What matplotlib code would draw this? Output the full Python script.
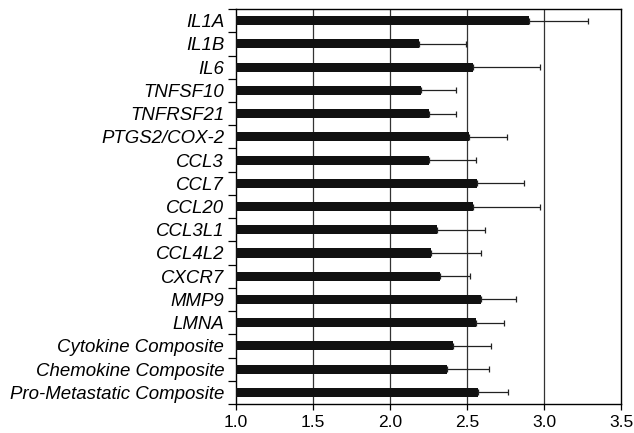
import matplotlib
matplotlib.use("Agg")
import matplotlib.pyplot as plt
import numpy as np

plt.rcParams['font.family'] = ['Liberation Sans', 'DejaVu Sans']

genes = ["IL1A", "IL1B", "IL6", "TNFSF10", "TNFRSF21", "PTGS2/COX-2", "CCL3", "CCL7",
         "CCL20", "CCL3L1", "CCL4L2", "CXCR7", "MMP9", "LMNA", "Cytokine Composite",
         "Chemokine Composite", "Pro-Metastatic Composite"]
values = [2.905, 2.186, 2.537, 2.199, 2.251, 2.515, 2.251, 2.567, 2.537, 2.305, 2.266,
          2.327, 2.591, 2.556, 2.409, 2.370, 2.571]
upper = [3.286, 2.492, 2.974, 2.431, 2.431, 2.758, 2.556, 2.868, 2.974, 2.617, 2.593,
         2.520, 2.821, 2.740, 2.656, 2.641, 2.769]
x_ticks = [1.0, 1.5, 2.0, 2.5, 3.0, 3.5]
base = 1.0

fig = plt.figure(figsize=(6.34, 4.33), dpi=100)
ax = fig.add_axes([0.3722, 0.067, 0.9795 - 0.3722, 0.979 - 0.067])

y = np.arange(len(genes))
vals = np.array(values)
err_plus = np.array(upper) - vals
ax.barh(y, vals - base, left=base, height=0.39, color='#111111', zorder=3)
ax.errorbar(vals, y, xerr=[np.zeros_like(vals), err_plus], fmt='none',
            ecolor='#222222', elinewidth=0.9, capsize=2.5, capthick=0.9, zorder=4)

ax.set_xlim(1.0, 3.5)
ax.set_ylim(len(genes) - 0.5, -0.5)
ax.set_xticks(x_ticks)
ax.set_xticklabels([f"{t:.1f}" for t in x_ticks], fontsize=12.5)
for t in x_ticks[1:-1]:
    ax.axvline(t, color='#333333', lw=0.9, zorder=1)

ax.set_yticks(y)
ax.set_yticklabels(genes, fontsize=13.4, style='italic')
ax.tick_params(axis='y', which='major', length=0, pad=8.5)
ax.set_yticks(np.arange(-0.5, len(genes) + 0.5, 1), minor=True)
ax.tick_params(axis='y', which='minor', length=6, width=0.9, direction='out')
ax.tick_params(axis='x', which='major', length=4, width=0.9, direction='out', pad=4)

for s in ax.spines.values():
    s.set_color('black')
    s.set_linewidth(1.0)

fig.savefig("out.png", dpi=100)
